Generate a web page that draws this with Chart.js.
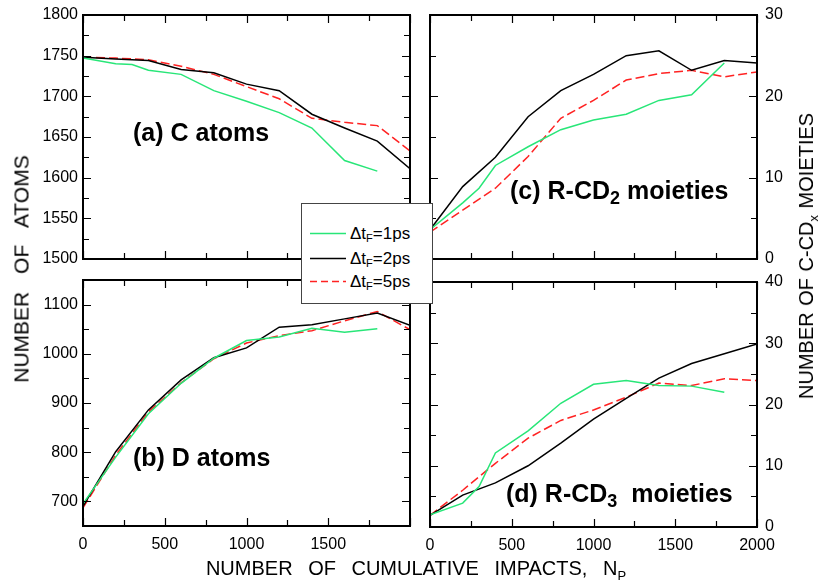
<!DOCTYPE html>
<html>
<head>
<meta charset="utf-8">
<script src="https://cdn.jsdelivr.net/npm/chart.js@4.4.0/dist/chart.umd.min.js"></script>
<style>
  body { margin: 0; background: #fff; font-family: "Liberation Sans", Arial, sans-serif; }
  #wrap { position: relative; width: 819px; height: 581px; overflow: hidden; background: #fff; }
  canvas { position: absolute; left: 0; top: 0; }
  .txt { position: absolute; white-space: nowrap; color: #000; line-height: 1; }
  .panel { font-weight: bold; font-size: 25px; transform: translateY(-50%); }
  .panel sub { font-size: 0.72em; vertical-align: -0.3em; line-height: 0; }
  .title { font-size: 21px; transform: translate(-50%, -50%); }
  .title sub { font-size: 0.65em; vertical-align: -0.35em; line-height: 0; }
  .rot { transform: translate(-50%, -50%) rotate(-90deg); }
  #legend { position: absolute; left: 301px; top: 203px; width: 130px; height: 99px;
            background: #fff; border: 1px solid #444; z-index: 5; }
  .row { position: absolute; left: 0; height: 20px; width: 130px; }
  .row svg { position: absolute; left: 8px; top: 9px; }
  .row span { position: absolute; left: 48px; top: 1px; font-size: 17px; white-space: nowrap; }
  .row sub { font-size: 0.65em; vertical-align: -0.3em; line-height: 0; }
</style>
</head>
<body>
<div id="wrap">
  <canvas id="chartA" width="819" height="581"></canvas>
  <canvas id="chartB" width="819" height="581"></canvas>
  <canvas id="chartC" width="819" height="581"></canvas>
  <canvas id="chartD" width="819" height="581"></canvas>

  <div class="txt panel" style="left:133px; top:132px;">(a) C atoms</div>
  <div class="txt panel" style="left:133px; top:457px;">(b) D atoms</div>
  <div class="txt panel" style="left:510px; top:190px;">(c) R-CD<sub>2</sub> moieties</div>
  <div class="txt panel" style="left:506px; top:493px;">(d) R-CD<sub>3</sub>&nbsp; moieties</div>

  <div class="txt title rot" style="left:21px; top:269px; word-spacing:12px;">NUMBER OF ATOMS</div>
  <div class="txt title rot" style="left:806px; top:256px; word-spacing:1px; font-size:20px;">NUMBER OF C-CD<sub>x</sub> MOIETIES</div>
  <div class="txt title" style="left:416px; top:568px; word-spacing:10px; font-size:20px;">NUMBER OF CUMULATIVE IMPACTS, N<sub>P</sub></div>

  <div id="legend">
    <div class="row" style="top:19px;"><svg width="36" height="3"><line x1="0" y1="1.5" x2="36" y2="1.5" stroke="rgb(40,230,120)" stroke-width="1.6"/></svg><span>&Delta;t<sub>F</sub>=1ps</span></div>
    <div class="row" style="top:44px;"><svg width="36" height="3"><line x1="0" y1="1.5" x2="36" y2="1.5" stroke="#000" stroke-width="1.4"/></svg><span>&Delta;t<sub>F</sub>=2ps</span></div>
    <div class="row" style="top:67px;"><svg width="36" height="3"><line x1="0" y1="1.5" x2="36" y2="1.5" stroke="#f22" stroke-width="1.6" stroke-dasharray="7 4"/></svg><span>&Delta;t<sub>F</sub>=5ps</span></div>
  </div>
</div>

<script>
// number of cumulative impacts (x values shared by all panels)
const NP = [0, 200, 300, 400, 600, 800, 1000, 1200, 1400, 1600, 1800, 2000];

// (a) C atoms
const cAtoms1ps = [1747, 1740, 1739, 1732, 1727, 1707, 1694, 1680, 1661, 1621, 1608, null];
const cAtoms2ps = [1748, 1746, null, 1744, 1733, 1729, 1715, 1707, 1678, 1661, 1645, 1611];
const cAtoms5ps = [1748, 1747, null, 1745, 1737, 1727, 1712, 1697, 1673, 1668, 1664, 1633];

// (b) D atoms
const dAtoms1ps = [695, 790, null, 878, 940, 991, 1027, 1034, 1052, 1044, 1051, null];
const dAtoms2ps = [690, 801, null, 886, 947, 992, 1012, 1054, 1059, 1071, 1083, 1058];
const dAtoms5ps = [687, 794, null, 882, 941, 990, 1022, 1037, 1047, 1067, 1086, 1049];

// (c) R-CD2 moieties
const cd2_1ps = [3.6, 6.9, 8.7, 11.5, 13.8, 15.9, 17.1, 17.8, 19.5, 20.2, 24.1, null];
const cd2_2ps = [3.6, 8.9, null, 12.5, 17.5, 20.7, 22.7, 25.0, 25.6, 23.2, 24.4, 24.1];
const cd2_5ps = [3.3, 6.0, null, 8.7, 12.6, 17.3, 19.5, 22.0, 22.8, 23.2, 22.4, 23.0];

// (d) R-CD3 moieties
const cd3_1ps = [2.0, 3.9, 6.6, 12.1, 15.7, 20.2, 23.3, 23.9, 23.1, 23.0, 22.0, null];
const cd3_2ps = [1.9, 5.2, null, 7.2, 10.0, 13.7, 17.6, 21.0, 24.3, 26.7, 28.3, 29.9];
const cd3_5ps = [1.9, 6.0, null, 10.4, 14.5, 17.4, 19.1, 21.2, 23.5, 23.1, 24.2, 23.9];

// tick labels
const xTicks = [0, 500, 1000, 1500, 2000];
const yTicksA = [1500, 1550, 1600, 1650, 1700, 1750, 1800];
const yTicksB = [700, 800, 900, 1000, 1100];
const yTicksC = [0, 10, 20, 30];
const yTicksD = [0, 10, 20, 30, 40];

const GREEN = 'rgb(40,230,120)';
const tickFont = { family: '"Liberation Sans", Arial, sans-serif', size: 16 };

// box frame with inward ticks on all four sides
const frameTicks = {
  id: 'frameTicks',
  afterDatasetsDraw(chart, args, opts) {
    const { ctx, chartArea: a, scales: { x, y } } = chart;
    ctx.save();
    ctx.strokeStyle = '#000';
    ctx.lineWidth = 1.2;
    ctx.beginPath();
    for (let v = x.min; v <= x.max; v += opts.xStep) {
      const px = Math.round(x.getPixelForValue(v)) + 0.5;
      const len = v % (opts.xStep * 2) === 0 ? 8 : 6;
      ctx.moveTo(px, a.bottom); ctx.lineTo(px, a.bottom - len);
      ctx.moveTo(px, a.top); ctx.lineTo(px, a.top + len);
    }
    for (let v = y.min; v <= y.max + 1e-9; v += opts.yStep) {
      const py = Math.round(y.getPixelForValue(v)) + 0.5;
      const len = Math.abs((v / opts.yStep) % 2) < 1e-6 ? 8 : 6;
      ctx.moveTo(a.left, py); ctx.lineTo(a.left + len, py);
      ctx.moveTo(a.right, py); ctx.lineTo(a.right - len, py);
    }
    ctx.stroke();
    ctx.lineWidth = 2;
    ctx.strokeRect(a.left, a.top, a.right - a.left, a.bottom - a.top);
    ctx.restore();
  }
};

function series(values, color, dash) {
  return {
    data: NP.map((x, i) => ({ x: x, y: values[i] })).filter(p => p.y !== null),
    borderColor: color,
    borderWidth: 1.5,
    borderDash: dash || [],
    pointRadius: 0,
    tension: 0,
    fill: false
  };
}

function makePanel(id, box, sets, yMin, yMax, yTicks, yStep, yRight, xLabels) {
  const W = 60, H = 30;
  return new Chart(document.getElementById(id), {
    type: 'line',
    data: { datasets: sets },
    options: {
      responsive: false,
      animation: false,
      layout: {
        padding: {
          left: yRight ? box.l : box.l - W,
          right: yRight ? 819 - box.r - W : 819 - box.r,
          top: box.t,
          bottom: 581 - box.b - H
        }
      },
      plugins: {
        legend: { display: false },
        tooltip: { enabled: false },
        frameTicks: { xStep: 250, yStep: yStep }
      },
      scales: {
        x: {
          type: 'linear', min: 0, max: 2000,
          grid: { display: false, drawTicks: false },
          border: { display: false },
          afterBuildTicks: s => { s.ticks = xTicks.map(v => ({ value: v })); },
          ticks: {
            display: xLabels !== null, padding: 9, color: '#000', font: tickFont,
            maxRotation: 0, autoSkip: false,
            callback: v => (xLabels && xLabels.includes(v)) ? String(v) : ''
          },
          afterFit: s => { s.height = H; s.paddingLeft = 0; s.paddingRight = 0; }
        },
        y: {
          type: 'linear', position: yRight ? 'right' : 'left', min: yMin, max: yMax,
          grid: { display: false, drawTicks: false },
          border: { display: false },
          afterBuildTicks: s => { s.ticks = yTicks.map(v => ({ value: v })); },
          ticks: { padding: yRight ? 8 : 5, color: '#000', font: tickFont, autoSkip: false,
                   callback: v => String(v) },
          afterFit: s => { s.width = W; s.paddingTop = 0; s.paddingBottom = 0; }
        }
      }
    },
    plugins: [frameTicks]
  });
}

makePanel('chartA', { l: 83, t: 15, r: 410, b: 259 },
  [series(cAtoms1ps, GREEN), series(cAtoms2ps, '#000'), series(cAtoms5ps, '#f22', [9, 4])],
  1500, 1800, yTicksA, 25, false, null);

makePanel('chartB', { l: 83, t: 280, r: 410, b: 526 },
  [series(dAtoms1ps, GREEN), series(dAtoms2ps, '#000'), series(dAtoms5ps, '#f22', [9, 4])],
  650, 1150, yTicksB, 50, false, [0, 500, 1000, 1500]);

makePanel('chartC', { l: 430, t: 15, r: 757, b: 259 },
  [series(cd2_1ps, GREEN), series(cd2_2ps, '#000'), series(cd2_5ps, '#f22', [9, 4])],
  0, 30, yTicksC, 5, true, null);

makePanel('chartD', { l: 430, t: 282, r: 757, b: 527 },
  [series(cd3_1ps, GREEN), series(cd3_2ps, '#000'), series(cd3_5ps, '#f22', [9, 4])],
  0, 40, yTicksD, 5, true, [0, 500, 1000, 1500, 2000]);
</script>
</body>
</html>
